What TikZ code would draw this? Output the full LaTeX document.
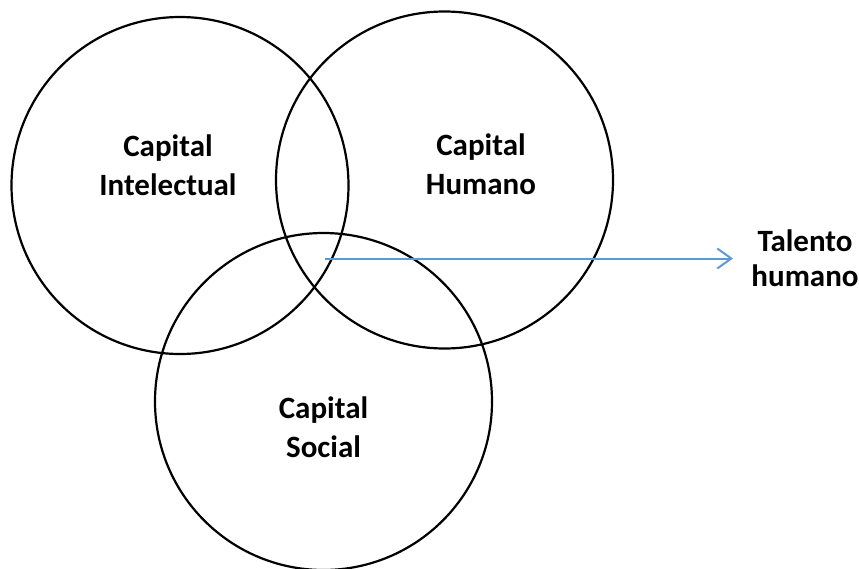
\documentclass[tikz,border=0pt]{standalone}
\usepackage{fontspec}
\setmainfont{Carlito}
\usetikzlibrary{arrows.meta}
\definecolor{arrowblue}{HTML}{5B9BD5}
\tikzset{
  ring/.style={circle, draw=black, line width=2.2pt, minimum size=337pt, inner sep=0pt},
  label/.style={font=\bfseries\fontsize{31}{38.5}\selectfont, align=center, anchor=base, inner sep=0pt},
  link/.style={draw=arrowblue, line width=2pt, -{Straight Barb[length=14pt,width=20pt,line width=2pt]}}
}
\begin{document}
\begin{tikzpicture}[x=1pt,y=-1pt]
\useasboundingbox (0,0) rectangle (859,568);
\node[ring] (ci) at (180,185.5) {};
\node[ring] (ch) at (444.5,180) {};
\node[ring] (cs) at (323.5,401.5) {};
\node[label] (tci) at (168,195) {Capital\\Intelectual};
\node[label] (tch) at (481,194) {Capital\\Humano};
\node[label] (tcs) at (323.5,457) {Capital\\Social};
\node[label, font=\bfseries\fontsize{31}{35}\selectfont] (tal) at (805,286) {Talento\\humano};
\coordinate (start) at (325,258.5);
\coordinate (tip) at (733,258.5);
\draw[link] (start) -- (tip);
\end{tikzpicture}
\end{document}
